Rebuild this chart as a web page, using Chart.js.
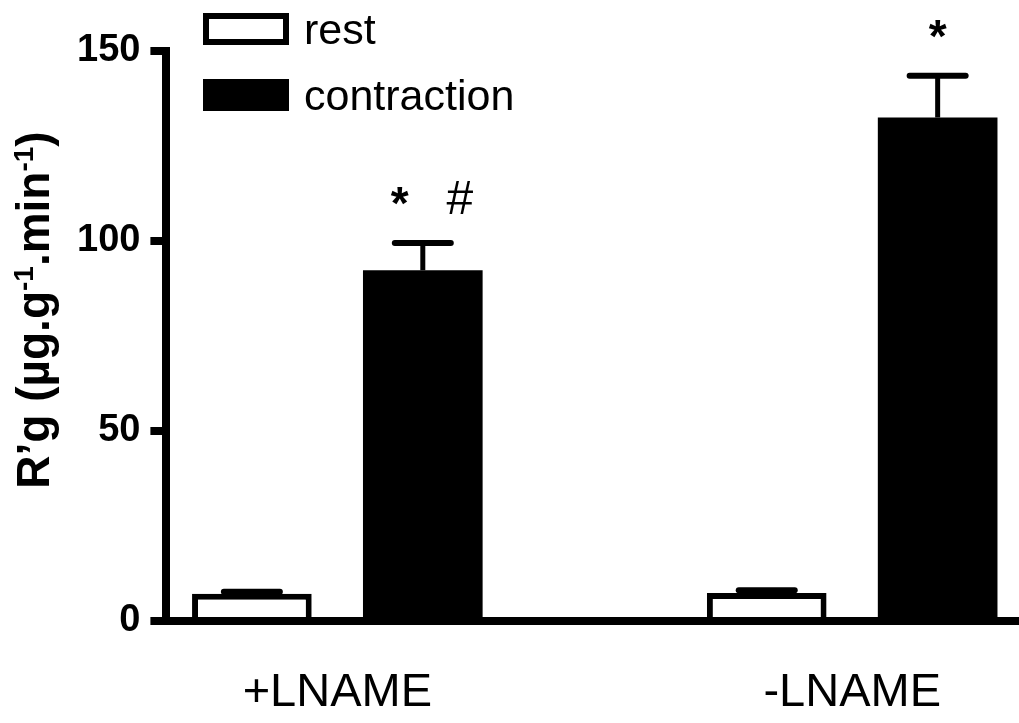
<!DOCTYPE html>
<html>
<head>
<meta charset="utf-8">
<script src="https://cdn.jsdelivr.net/npm/chart.js@4.4.1/dist/chart.umd.min.js"></script>
<style>
  html, body { margin: 0; padding: 0; background: #fff; }
  #wrap { width: 1019px; height: 723px; }
</style>
</head>
<body>
<div id="wrap"><canvas id="chart"></canvas></div>
<script>
// values (mean, SEM upward only)
const groups = ['+LNAME', '-LNAME'];
const restMean = [7.2, 7.4];
const restSem = [0.5, 0.7];
const contractionMean = [92.3, 132.5];
const contractionSem = [7.2, 11.0];
const contractionMarks = [['*', '#'], ['*']];
const yTicks = [0, 50, 100, 150];
const yTitle = [['R’g (µg.g', false], ['-1', true], ['.min', false], ['-1', true], [')', false]];

const FONT = "'Liberation Sans', Arial, sans-serif";

// GraphPad style error bars: stem + cap, only above the bar
const errorBars = {
    id: 'errorBars',
    afterDatasetsDraw(chart) {
        const ctx = chart.ctx;
        const y = chart.scales.y;
        ctx.save();
        ctx.strokeStyle = '#000';
        chart.data.datasets.forEach((ds, di) => {
            chart.getDatasetMeta(di).data.forEach((bar, i) => {
                const top = y.getPixelForValue(ds.data[i].y + ds.sem[i]);
                ctx.lineWidth = 5;
                ctx.lineCap = 'butt';
                ctx.beginPath();
                ctx.moveTo(bar.x, bar.y);
                ctx.lineTo(bar.x, top);
                ctx.stroke();
                ctx.lineWidth = 6;
                ctx.lineCap = 'round';
                ctx.beginPath();
                ctx.moveTo(bar.x - 28, top);
                ctx.lineTo(bar.x + 28, top);
                ctx.stroke();
            });
        });
        ctx.restore();
    }
};

// significance marks above the contraction bars
const sigMarks = {
    id: 'sigMarks',
    afterDatasetsDraw(chart) {
        const ctx = chart.ctx;
        const y = chart.scales.y;
        const di = chart.data.datasets.findIndex(d => d.label === 'contraction');
        ctx.save();
        ctx.fillStyle = '#000';
        ctx.textAlign = 'center';
        ctx.textBaseline = 'alphabetic';
        chart.getDatasetMeta(di).data.forEach((bar, i) => {
            const m = contractionMarks[i];
            const top = y.getPixelForValue(contractionMean[i] + contractionSem[i]);
            const offs = m.length > 1 ? [-23, 37] : [0];
            m.forEach((s, k) => {
                const star = s === '*';
                ctx.font = (star ? 'bold 46px ' : '48px ') + FONT;
                ctx.fillText(s, bar.x + offs[k], top - (star ? 24 : 29));
            });
        });
        ctx.restore();
    }
};

// legend: stacked boxes in the top left corner
const boxLegend = {
    id: 'boxLegend',
    afterDraw(chart) {
        const ctx = chart.ctx;
        ctx.save();
        ctx.font = '43px ' + FONT;
        ctx.textBaseline = 'alphabetic';
        chart.data.datasets.forEach((ds, i) => {
            const top = 13 + i * 66;
            ctx.fillStyle = ds.backgroundColor;
            ctx.fillRect(203, top, 86, 32);
            if (ds.borderWidth) {
                ctx.lineWidth = ds.borderWidth;
                ctx.strokeStyle = ds.borderColor;
                ctx.strokeRect(206, top + 3, 80, 26);
            }
            ctx.fillStyle = '#000';
            ctx.fillText(ds.label, 304, top + 31);
        });
        ctx.restore();
    }
};

// rotated y title with superscripts
const yTitlePlugin = {
    id: 'yTitle',
    afterDraw(chart) {
        const ctx = chart.ctx;
        const big = 'bold 46px ' + FONT;
        const small = 'bold 28px ' + FONT;
        let w = 0;
        yTitle.forEach(([t, sup]) => {
            ctx.font = sup ? small : big;
            w += ctx.measureText(t).width;
        });
        ctx.save();
        ctx.translate(49, 310);
        ctx.rotate(-Math.PI / 2);
        ctx.fillStyle = '#000';
        ctx.textBaseline = 'alphabetic';
        let x = -w / 2;
        yTitle.forEach(([t, sup]) => {
            ctx.font = sup ? small : big;
            ctx.fillText(t, x, sup ? -16 : 0);
            x += ctx.measureText(t).width;
        });
        ctx.restore();
    }
};

new Chart(document.getElementById('chart'), {
    type: 'bar',
    data: {
        datasets: [
            {
                label: 'rest',
                data: restMean.map((v, i) => ({ x: i, y: v })),
                sem: restSem,
                backgroundColor: '#fff',
                borderColor: '#000',
                borderWidth: 6,
                borderSkipped: 'start',
                categoryPercentage: 0.664,
                barPercentage: 0.70
            },
            {
                label: 'contraction',
                data: contractionMean.map((v, i) => ({ x: i, y: v })),
                sem: contractionSem,
                backgroundColor: '#000',
                borderWidth: 0,
                categoryPercentage: 0.664,
                barPercentage: 0.70
            }
        ]
    },
    options: {
        responsive: true,
        maintainAspectRatio: false,
        animation: false,
        layout: { padding: { left: 67, top: 51, right: 0, bottom: 0 } },
        plugins: {
            legend: { display: false },
            tooltip: { enabled: false }
        },
        scales: {
            x: {
                type: 'linear',
                min: -0.332,
                max: 1.324,
                bounds: 'data',
                offset: false,
                grid: { display: false, drawTicks: false, offset: false },
                border: { display: true, color: '#000', width: 8, z: 1 },
                ticks: {
                    stepSize: 1,
                    includeBounds: false,
                    autoSkip: false,
                    maxRotation: 0,
                    padding: 44,
                    color: '#000',
                    font: { family: FONT, size: 47 },
                    callback: v => (Number.isInteger(v) ? groups[v] : '')
                },
                afterBuildTicks: s => { s.ticks = groups.map((g, i) => ({ value: i })); },
                afterFit: s => { s.height = 102; }
            },
            y: {
                min: 0,
                max: 150,
                grid: { drawOnChartArea: false, drawTicks: true, tickLength: 16, lineWidth: 8, color: '#000' },
                border: { display: true, color: '#000', width: 8 },
                ticks: {
                    padding: 10,
                    color: '#000',
                    font: { family: FONT, size: 38, weight: 'bold' }
                },
                afterBuildTicks: s => { s.ticks = yTicks.map(v => ({ value: v })); }
            }
        }
    },
    plugins: [errorBars, sigMarks, boxLegend, yTitlePlugin]
});
</script>
</body>
</html>
